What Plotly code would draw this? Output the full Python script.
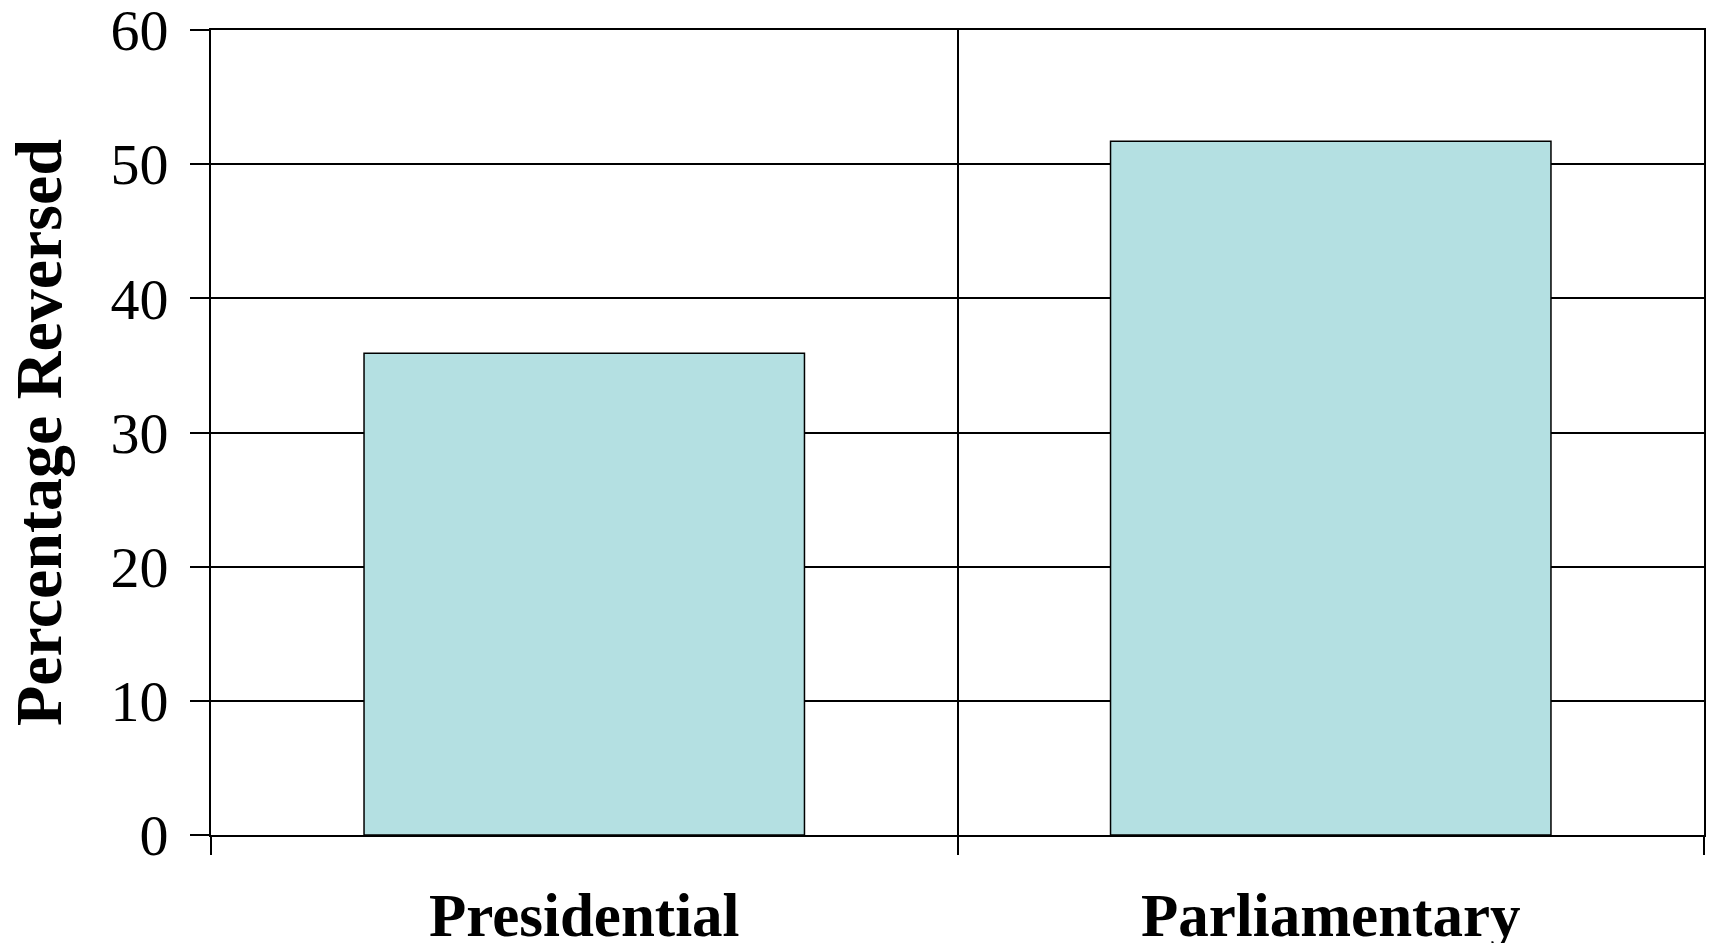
import plotly.graph_objects as go

# Share of decisions reversed, by system of government
systems = ["Presidential", "Parliamentary"]
pct_reversed = [35.9, 51.7]
y_ticks = [0, 10, 20, 30, 40, 50, 60]

SERIF = "Liberation Serif, Times New Roman, serif"

fig = go.Figure(
    go.Bar(
        x=systems,
        y=pct_reversed,
        marker=dict(color="#B4E0E2", line=dict(color="black", width=1.5)),
        width=0.59,
    )
)

fig.update_layout(
    width=1710,
    height=943,
    margin=dict(l=211, r=6, t=30, b=108),
    paper_bgcolor="white",
    plot_bgcolor="white",
    showlegend=False,
    font=dict(family=SERIF, color="black"),
)

fig.update_xaxes(
    type="category",
    automargin=False,
    tickson="boundaries",
    ticks="outside",
    ticklen=18,
    tickwidth=2,
    tickcolor="black",
    showgrid=True,
    gridcolor="black",
    gridwidth=2,
    showline=True,
    linecolor="black",
    linewidth=2,
    mirror=True,
    tickfont=dict(family=SERIF, size=61, color="black", weight="bold"),
    ticklabelstandoff=26,
    ticklabeloverflow="allow",
)

fig.update_yaxes(
    range=[0, 60],
    automargin=False,
    tickvals=y_ticks,
    ticks="outside",
    ticklen=19,
    tickwidth=2,
    tickcolor="black",
    showgrid=True,
    gridcolor="black",
    gridwidth=2,
    showline=True,
    linecolor="black",
    linewidth=2,
    mirror=True,
    zeroline=False,
    tickfont=dict(family=SERIF, size=58, color="black"),
    ticklabelstandoff=10,
    ticklabeloverflow="allow",
    title=dict(
        text="<b>Percentage Reversed</b>",
        font=dict(family=SERIF, size=66, color="black"),
        standoff=27,
    ),
)

fig.write_html("out.html")
